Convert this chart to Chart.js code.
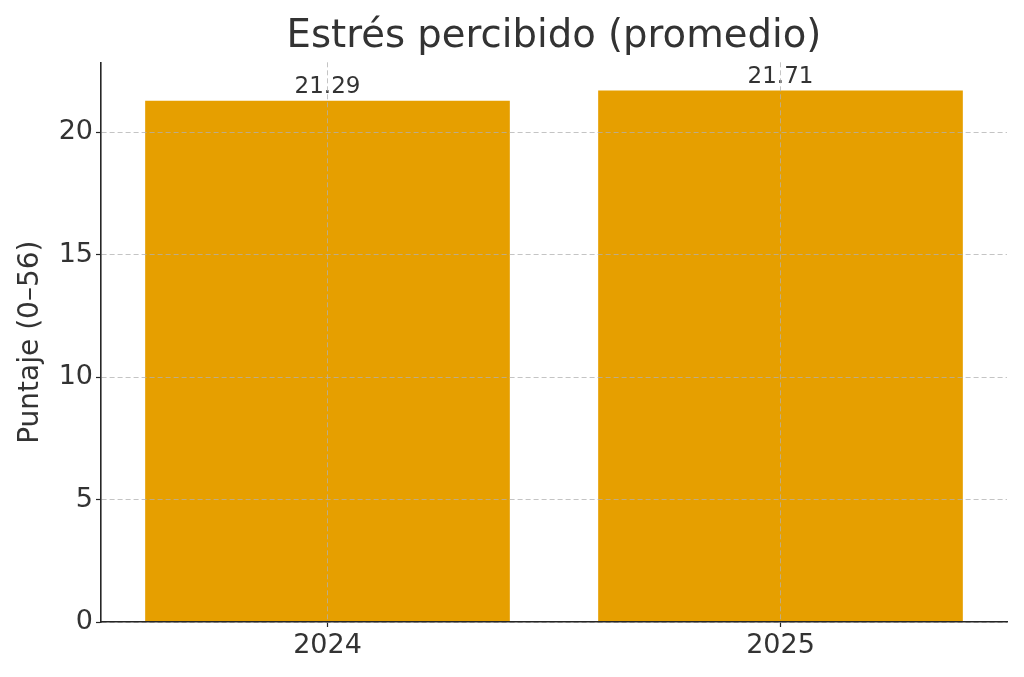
<!DOCTYPE html>
<html>
<head>
<meta charset="utf-8">
<script src="https://cdn.jsdelivr.net/npm/chart.js@4"></script>
<style>
  body { margin: 0; background: #fff; }
  #wrap { width: 1024px; height: 677px; }
</style>
</head>
<body>
<div id="wrap"><canvas id="stressChart" width="1024" height="677"></canvas></div>
<script>
// datos del gráfico
const years = ['2024', '2025'];
const stressMeans = [21.29, 21.71];
const yTicks = [0, 5, 10, 15, 20];

const FONT = "'DejaVu Sans', sans-serif";
const TEXT = '#333333';
const AXIS = '#262626';
const GRID = 'rgba(176,176,176,0.75)';

// etiquetas de valor encima de cada barra
const valueLabels = {
    id: 'valueLabels',
    afterDatasetsDraw(chart) {
        const ctx = chart.ctx;
        const meta = chart.getDatasetMeta(0);
        ctx.save();
        ctx.font = '23px ' + FONT;
        ctx.fillStyle = TEXT;
        ctx.textAlign = 'center';
        ctx.textBaseline = 'bottom';
        meta.data.forEach(function(bar, i) {
            ctx.fillText(stressMeans[i].toFixed(2), bar.x, bar.y - 2);
        });
        ctx.restore();
    }
};

const gridOpts = {
    z: 1,
    color: GRID,
    lineWidth: 1,
    drawTicks: true,
    tickLength: 5,
    tickColor: AXIS,
    tickWidth: 1.2,
    tickBorderDash: []
};
const borderOpts = { display: true, color: AXIS, width: 1.6, dash: [5, 3], z: 2 };

const ctx = document.getElementById('stressChart').getContext('2d');
const stressChart = new Chart(ctx, {
    type: 'bar',
    data: {
        labels: years,
        datasets: [{
            label: 'Estrés percibido',
            data: stressMeans,
            backgroundColor: '#E69F00',
            borderWidth: 0,
            barPercentage: 0.805,
            categoryPercentage: 1.0
        }]
    },
    options: {
        responsive: false,
        animation: false,
        layout: { padding: { top: 0, right: 17, bottom: 0, left: 0 } },
        plugins: {
            legend: { display: false },
            tooltip: { enabled: false },
            title: {
                display: true,
                fullSize: false,
                text: 'Estrés percibido (promedio)',
                color: TEXT,
                font: { family: FONT, size: 38.6, weight: 'normal' },
                padding: { top: 14, bottom: 2 }
            }
        },
        scales: {
            x: {
                z: 1,
                offset: true,
                grid: Object.assign({ offset: false }, gridOpts),
                border: borderOpts,
                ticks: {
                    color: TEXT,
                    padding: 3,
                    font: { family: FONT, size: 27 }
                },
                afterFit(scale) { scale.height = 55; }
            },
            y: {
                z: 1,
                min: 0,
                max: 22.86,
                afterBuildTicks(scale) {
                    scale.ticks = yTicks.map(v => ({ value: v }));
                },
                grid: gridOpts,
                border: borderOpts,
                ticks: {
                    color: TEXT,
                    padding: 3,
                    font: { family: FONT, size: 27 }
                },
                title: {
                    display: true,
                    text: 'Puntaje (0–56)',
                    color: TEXT,
                    font: { family: FONT, size: 28 },
                    padding: { top: 14, bottom: 0 }
                },
                afterFit(scale) { scale.width = 101; }
            }
        }
    },
    plugins: [valueLabels]
});
</script>
</body>
</html>
